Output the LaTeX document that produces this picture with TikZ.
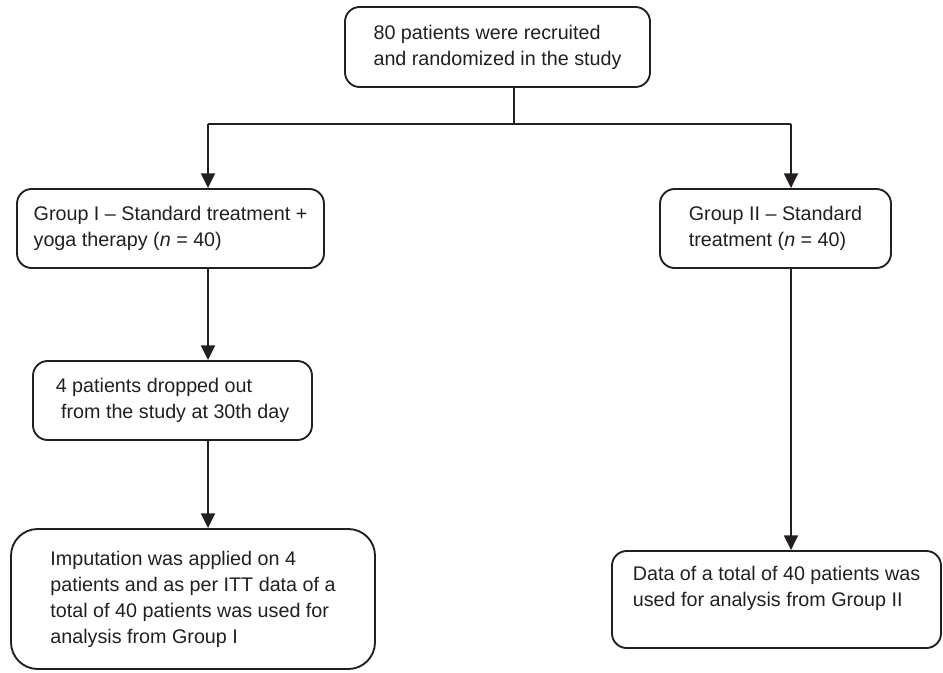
\documentclass[tikz,border=0pt]{standalone}
\usepackage{fontspec}
\setmainfont{Liberation Sans}
\usepackage{tikz}
\usetikzlibrary{arrows.meta}

\definecolor{ink}{RGB}{35,31,32}

\begin{document}
\begin{tikzpicture}[x=0.75pt, y=-0.75pt,
    box/.style={draw=ink, text=ink, line width=1.4pt, rounded corners=11pt,
        align=left, inner sep=0pt, font=\fontsize{14.8}{19.5}\selectfont},
    link/.style={draw=ink, line width=1.4pt},
    arr/.style={link, -{Triangle[length=11pt, width=10.5pt]}}]

    % Fix the size of the page
    \useasboundingbox (0,0) rectangle (943,672);

    % Recruitment
    \node[box, minimum width=228.75pt, minimum height=60pt] (recruit) at (497.5,47)
        {80 patients were recruited\\and randomized in the study};

    % The two groups
    \node[box, minimum width=230.25pt, minimum height=59.25pt] (groupI) at (170.5,228.5)
        {Group I -- Standard treatment +\\yoga therapy (\textit{n} = 40)};
    \node[box, minimum width=173.25pt, minimum height=59.25pt] (groupII) at (775.5,228.5)
        {Group II -- Standard\\treatment (\textit{n} = 40)};

    % Follow up of group I
    \node[box, minimum width=209.25pt, minimum height=59.25pt] (dropout) at (172.5,400.5)
        {4 patients dropped out\\\hspace*{4pt}from the study at 30th day};
    \node[box, rounded corners=20pt, minimum width=273pt, minimum height=105pt] (imputed) at (193,599)
        {Imputation was applied on 4\\patients and as per ITT data of a\\total of 40 patients was used for\\analysis from Group I};

    % Analysis of group II
    \node[box, minimum width=246.75pt, minimum height=72.75pt] (analysed) at (776.5,599.5)
        {Data of a total of 40 patients was\\used for analysis from Group II\\\mbox{}};

    % Branch points
    \coordinate (split) at (514,124);
    \coordinate (left) at (208,124);
    \coordinate (right) at (791,124);

    % Connectors
    \draw[link] (recruit.south -| split) -- (split);
    \draw[link] (left) -- (right);
    \draw[arr] (left) -- (groupI.north -| left);
    \draw[arr] (right) -- (groupII.north -| right);
    \draw[arr] (groupI.south -| left) -- (dropout.north -| left);
    \draw[arr] (dropout.south -| left) -- (imputed.north -| left);
    \draw[arr] (groupII.south -| right) -- (analysed.north -| right);

\end{tikzpicture}
\end{document}
